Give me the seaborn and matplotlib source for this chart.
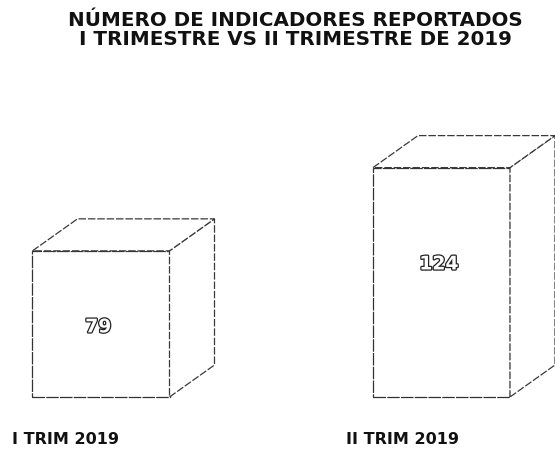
import matplotlib
matplotlib.use("Agg")
import matplotlib.pyplot as plt
import seaborn as sns
import pandas as pd
import matplotlib.patheffects as pe
from matplotlib.patches import Polygon
from matplotlib.transforms import ScaledTranslation

categories = ["I TRIM 2019", "II TRIM 2019"]
values = [79, 124]
title = "NÚMERO DE INDICADORES REPORTADOS\nI TRIMESTRE VS II TRIMESTRE DE 2019"

sns.set_theme(style="white")
plt.rcParams["font.family"] = ["DejaVu Sans"]

W, H = 555, 451
fig = plt.figure(figsize=(W / 100, H / 100), dpi=100)
base_px = 397
ppu_y = 1.85
top_px = 40
ax = fig.add_axes([0, (H - base_px) / H, 1, (base_px - top_px) / H])
ppu_x = 340.5
c0 = 101

df = pd.DataFrame({"cat": categories, "val": values})
sns.barplot(data=df, x="cat", y="val", ax=ax, color="white", width=137 / ppu_x,
            edgecolor="#333333", linewidth=0.9, saturation=1)
ax.set_xlim(-c0 / ppu_x, (W - c0) / ppu_x)
ax.set_ylim(0, (base_px - top_px) / ppu_y)

dx = 45 / ppu_x
dy = 32 / ppu_y
edge = dict(facecolor="white", edgecolor="#3a3a3a", linewidth=0.9, linestyle=(0, (6, 1.5)))
label_frac = [0.48, 0.58]
bars = list(ax.patches)
for i, p in enumerate(bars):
    p.set_linestyle((0, (10, 1)))
    p.set_clip_on(False)
    x0, y0 = p.get_x(), p.get_y()
    w, h = p.get_width(), p.get_height()
    x1, y1 = x0 + w, y0 + h
    side = Polygon([(x1, y0), (x1 + dx, y0 + dy), (x1 + dx, y1 + dy), (x1, y1)], closed=True, **edge)
    top = Polygon([(x0, y1), (x0 + dx, y1 + dy), (x1 + dx, y1 + dy), (x1, y1)], closed=True, **edge)
    ax.add_patch(side)
    ax.add_patch(top)
    ax.text(x0 + w / 2 - 0.008, y0 + h * label_frac[i], f"{values[i]}", ha="center", va="center",
            fontsize=13.5, fontweight="bold", color="white",
            path_effects=[pe.withStroke(linewidth=1.8, foreground="#222222")])

ax.set_xlabel("")
ax.set_ylabel("")
ax.set_yticks([])
ax.tick_params(axis="x", length=0, pad=25)
label_shift_px = [-89, -96]
for lab, sh in zip(ax.get_xticklabels(), label_shift_px):
    lab.set_ha("left")
    lab.set_fontweight("bold")
    lab.set_fontsize(11.5)
    lab.set_color("#111111")
    lab.set_transform(lab.get_transform() + ScaledTranslation(sh / 100, 0, fig.dpi_scale_trans))
for s in ax.spines.values():
    s.set_visible(False)

fig.text(295 / W, 1 - 11 / H, title, ha="center", va="top", fontsize=14.3,
         fontweight="bold", color="#111111", linespacing=0.98)

fig.savefig("out.png", dpi=100, facecolor="white")
